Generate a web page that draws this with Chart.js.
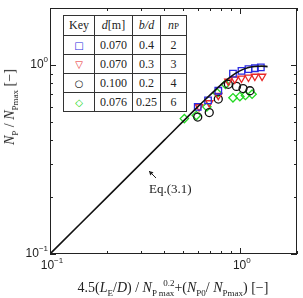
<!DOCTYPE html>
<html lang="en">
<head>
<meta charset="UTF-8">
<title>Np / Npmax</title>
<script src="https://cdn.jsdelivr.net/npm/chart.js"></script>
<style>
  body { margin: 0; background: #fff; }
  #wrap { position: relative; width: 303px; height: 298px; font-family: "Liberation Serif", serif; color: #222; }
  #chart { position: absolute; left: 0; top: 0; }
  .txt { position: absolute; white-space: nowrap; }
  sub, sup { font-size: 9px; line-height: 0; }
  .pm { position: relative; display: inline-block; font-size: 9px; line-height: 9px; vertical-align: -4px; }
  .pw { position: absolute; right: 0; top: -10px; }
  #key { position: absolute; left: 63px; top: 15px; width: 119px; table-layout: fixed; border-collapse: collapse; font-size: 12px; background: #fff; }
  #key td { border: 1px solid #333; text-align: center; padding: 0; height: 18px; }
  #key i { font-style: italic; }
</style>
</head>
<body>
<div id="wrap">
  <canvas id="chart" width="303" height="298"></canvas>
  <table id="key"></table>
  <div class="txt" style="left:149px; top:181px; font-size:13px;">Eq.(3.1)</div>
  <div class="txt" id="xt" style="left:173px; top:280px; font-size:14px; transform:translateX(-50%);">
    4.5(<i>L</i><sub>E</sub>/<i>D</i>) / <i>N</i><span class="pm">P max<span class="pw">0.2</span></span>+(<i>N</i><sub>P0</sub>/ <i>N</i><sub>Pmax</sub>) [&minus;]
  </div>
  <div class="txt" id="yt" style="left:10px; top:107px; font-size:14px; transform:translate(-50%,-50%) rotate(-90deg);">
    <i>N</i><sub>P</sub> / <i>N</i><sub>Pmax</sub> [&minus;]
  </div>
</div>

<script>
// series
const sqX  = [0.60, 0.68, 0.77, 0.92, 1.02, 1.11, 1.20, 1.29];
const sqY  = [0.60, 0.65, 0.73, 0.90, 0.93, 0.95, 0.96, 0.97];
const triX = [0.61, 0.69, 0.77, 0.87, 0.94, 1.02, 1.11, 1.20, 1.31];
const triY = [0.60, 0.63, 0.69, 0.82, 0.84, 0.85, 0.86, 0.87, 0.87];
const cirX = [0.60, 0.69, 0.77, 0.87, 0.96, 1.04, 1.13];
const cirY = [0.53, 0.56, 0.66, 0.79, 0.77, 0.75, 0.73];
const diaX = [0.51, 0.59, 0.67, 0.76, 0.84, 0.92, 1.00, 1.07, 1.16];
const diaY = [0.52, 0.54, 0.60, 0.71, 0.79, 0.67, 0.68, 0.69, 0.70];
const eqX  = [0.1, 0.2, 0.4, 0.6, 0.8, 0.9, 1.0, 1.1, 1.2, 1.3, 1.4];
const eqY  = [0.1, 0.2, 0.4, 0.6, 0.79, 0.87, 0.93, 0.965, 0.98, 0.985, 0.98];

// key table
const keySym   = ['\u25A1', '\u25BD', '\u25CB', '\u25C7'];
const keyColor = ['#2a2ae0', '#e82828', '#111', '#22d822'];
const keyD     = ['0.070', '0.070', '0.100', '0.076'];
const keyBD    = ['0.4', '0.3', '0.2', '0.25'];
const keyNp    = ['2', '3', '4', '6'];

// axis ticks
const tickVals  = [0.1, 0.2, 0.3, 0.4, 0.5, 0.6, 0.7, 0.8, 0.9, 1, 2];
const majorVals = [0.1, 1];
const majorExp  = ['\u22121', '0'];

const pts = (xs, ys) => xs.map((x, i) => ({ x: x, y: ys[i] }));

// build key
let html = '<tr><td style="width:30px;height:19px">Key</td><td style="width:37px"><i>d</i>[m]</td>' +
  '<td style="width:27px"><i>b/d</i></td><td style="width:25px"><i>n</i><span style="font-size:9px">P</span></td></tr>';
for (let i = 0; i < keyD.length; i++) {
  html += '<tr><td style="color:' + keyColor[i] + ';font-family:DejaVu Sans;font-size:10px">' + keySym[i] + '</td>' +
    '<td>' + keyD[i] + '</td><td>' + keyBD[i] + '</td><td>' + keyNp[i] + '</td></tr>';
}
document.getElementById('key').innerHTML = html;

function powLabel(ctx, exp, x, y, align) {
  ctx.font = '12px "Liberation Sans", Arial, sans-serif';
  const w1 = ctx.measureText('10').width;
  ctx.font = '8px "Liberation Sans", Arial, sans-serif';
  const w2 = ctx.measureText(exp).width;
  let x0 = x;
  if (align === 'right') x0 = x - w1 - w2;
  if (align === 'center') x0 = x - (w1 + w2) / 2;
  ctx.textAlign = 'left';
  ctx.textBaseline = 'middle';
  ctx.font = '12px "Liberation Sans", Arial, sans-serif';
  ctx.fillText('10', x0, y);
  ctx.font = '8px "Liberation Sans", Arial, sans-serif';
  ctx.fillText(exp, x0 + w1, y - 5);
}

const frame = {
  id: 'frame',
  afterDraw(chart) {
    const ctx = chart.ctx;
    const a = chart.chartArea;
    const xs = chart.scales.x, ys = chart.scales.y;
    ctx.save();
    ctx.strokeStyle = '#222';
    ctx.fillStyle = '#222';
    ctx.lineWidth = 1;
    ctx.strokeRect(a.left + 0.5, a.top + 0.5, a.right - a.left - 1, a.bottom - a.top - 1);
    ctx.beginPath();
    tickVals.forEach(v => {
      const len = majorVals.includes(v) ? 6 : 3;
      const px = Math.round(xs.getPixelForValue(v)) + 0.5;
      ctx.moveTo(px, a.bottom); ctx.lineTo(px, a.bottom - len);
      ctx.moveTo(px, a.top); ctx.lineTo(px, a.top + len);
      const py = Math.round(ys.getPixelForValue(v)) + 0.5;
      ctx.moveTo(a.left, py); ctx.lineTo(a.left + len, py);
      ctx.moveTo(a.right, py); ctx.lineTo(a.right - len, py);
    });
    ctx.stroke();
    majorVals.forEach((v, i) => {
      powLabel(ctx, majorExp[i], xs.getPixelForValue(v) + 2, a.bottom + 12, 'center');
      powLabel(ctx, majorExp[i], a.left - 2, ys.getPixelForValue(v), 'right');
    });
    // arrow pointing at the Eq.(3.1) line
    const tx = a.left + 99, ty = a.top + 163;
    ctx.beginPath();
    ctx.moveTo(tx + 7, ty + 7); ctx.lineTo(tx, ty);
    ctx.stroke();
    ctx.beginPath();
    ctx.moveTo(tx, ty); ctx.lineTo(tx + 4.5, ty + 1.2); ctx.lineTo(tx + 1.2, ty + 4.5); ctx.closePath();
    ctx.fill();
    ctx.restore();
  }
};

const marker = (label, data, style, color, extra) => Object.assign({
  label: label, data: data, pointStyle: style, pointRadius: 4,
  pointBorderColor: color, pointBackgroundColor: 'rgba(0,0,0,0)', pointBorderWidth: 1.3,
  showLine: false
}, extra || {});

new Chart(document.getElementById('chart'), {
  type: 'scatter',
  data: {
    datasets: [
      { label: 'Eq.(3.1)', data: pts(eqX, eqY), showLine: true, borderColor: '#111', borderWidth: 1.6,
        pointRadius: 0, cubicInterpolationMode: 'monotone', fill: false },
      marker('np=2', pts(sqX, sqY), 'rect', keyColor[0], { pointRadius: 4.6 }),
      marker('np=3', pts(triX, triY), 'triangle', keyColor[1], { pointRotation: 180, pointRadius: 4.2 }),
      marker('np=4', pts(cirX, cirY), 'circle', keyColor[2]),
      marker('np=6', pts(diaX, diaY), 'rectRot', keyColor[3], { pointRadius: 4.2 })
    ]
  },
  options: {
    responsive: false,
    animation: false,
    devicePixelRatio: 1,
    layout: { padding: { left: 50, right: 6, top: 8, bottom: 44 } },
    plugins: { legend: { display: false }, tooltip: { enabled: false } },
    scales: {
      x: { type: 'logarithmic', min: 0.1, max: 2, display: false },
      y: { type: 'logarithmic', min: 0.1, max: 2, display: false }
    }
  },
  plugins: [frame]
});
</script>
</body>
</html>
